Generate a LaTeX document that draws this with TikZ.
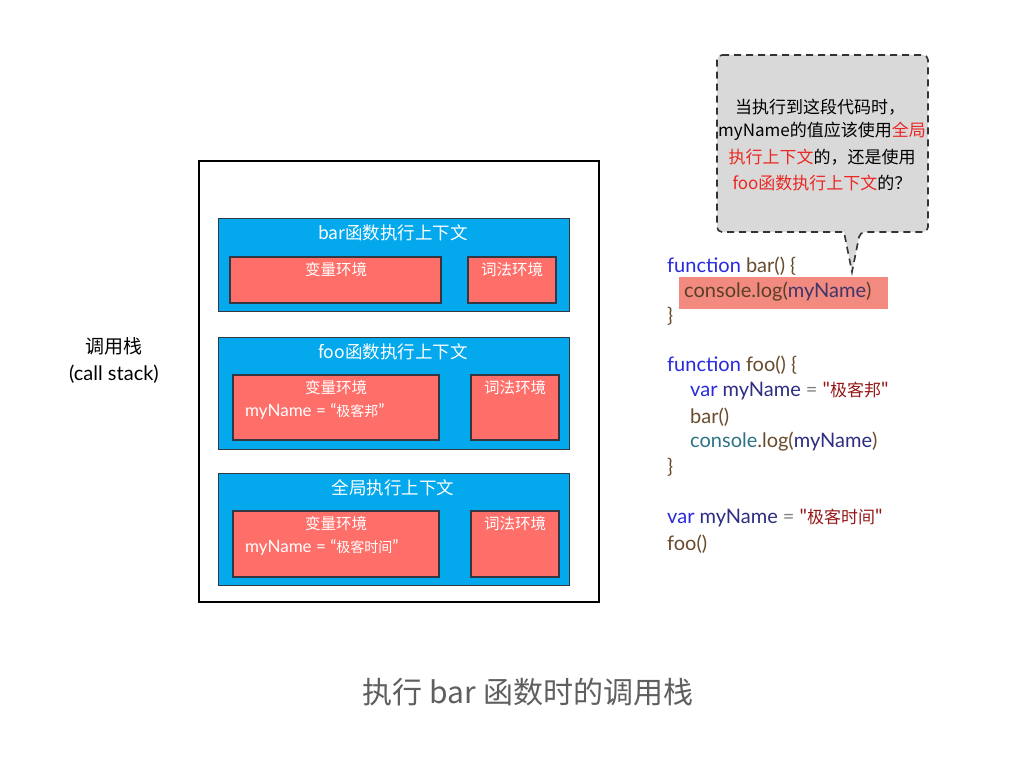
\documentclass[tikz,border=0pt]{standalone}
\usepackage{fontspec}
\setmainfont{Lato}[Ligatures=TeXOff]
\newfontfamily\cjk{Noto Sans CJK SC}
\definecolor{ctxblue}{RGB}{3,169,236}
\definecolor{envred}{RGB}{255,111,105}
\definecolor{boxedge}{RGB}{50,55,65}
\definecolor{bubble}{RGB}{217,217,217}
\definecolor{hlred}{RGB}{242,138,128}
\definecolor{kwblue}{RGB}{40,40,225}
\definecolor{fnbrown}{RGB}{105,75,45}
\definecolor{objteal}{RGB}{45,115,135}
\definecolor{varnavy}{RGB}{45,45,130}
\definecolor{strred}{RGB}{150,25,25}
\definecolor{capgray}{RGB}{95,95,95}
\definecolor{qred}{RGB}{235,40,35}
\newcommand{\cjks}[1]{{\cjk\fontsize{14}{16}\selectfont #1}}
\newcommand{\cjkc}[1]{{\cjk\fontsize{17}{19}\selectfont #1}}
\begin{document}
\begin{tikzpicture}[x=1pt,y=-1pt,
  ctx/.style={draw=boxedge,line width=1pt,fill=ctxblue},
  env/.style={draw=boxedge,line width=1.2pt,fill=envred},
  ttl/.style={text=white,font=\cjk\fontsize{17.5}{19}\selectfont,inner sep=0pt},
  lbl/.style={text=white,font=\cjk\fontsize{15.5}{17}\selectfont,inner sep=0pt},
  val/.style={text=white,font=\fontsize{17}{19}\selectfont,inner sep=0pt,anchor=west},
  code/.style={font=\fontsize{20}{22}\selectfont,inner sep=0pt,anchor=west},
  qtext/.style={font=\cjk\fontsize{17}{19}\selectfont,inner sep=0pt}
]
\useasboundingbox[fill=white] (0,0) rectangle (1012,764);

% call stack frame
\node[draw=black,line width=2pt,minimum width=400pt,minimum height=441pt,anchor=north west,inner sep=0pt] (stack) at (198,160) {};
\node[font=\cjk\fontsize{19}{21}\selectfont,inner sep=0pt] (stacklbl) at (114,346) {调用栈};
\node[font=\fontsize{20}{22}\selectfont,inner sep=0pt] (stacklbl2) at (114,374) {(call stack)};

% bar context
\draw[ctx] (218,218) rectangle (569,311);
\node[ttl] (bart) at (393,233) {bar函数执行上下文};
\draw[env] (230,257) rectangle (441,303);
\node[lbl] (barve) at (336,270) {变量环境};
\draw[env] (468,257) rectangle (556,303);
\node[lbl] (barle) at (512,270) {词法环境};

% foo context
\draw[ctx] (218,337) rectangle (569,449);
\node[ttl] (foot) at (393,352) {foo函数执行上下文};
\draw[env] (233,375) rectangle (439,440);
\node[lbl] (foove) at (336,388) {变量环境};
\node[val] (foov) at (245,411) {myName = “\cjks{极客邦}”};
\draw[env] (471,375) rectangle (559,440);
\node[lbl] (foole) at (515,388) {词法环境};

% global context
\draw[ctx] (218,473) rectangle (569,585);
\node[ttl] (globt) at (393,488) {全局执行上下文};
\draw[env] (233,511) rectangle (439,577);
\node[lbl] (globve) at (336,524) {变量环境};
\node[val] (globv) at (245,547) {myName = “\cjks{极客时间}”};
\draw[env] (471,511) rectangle (559,577);
\node[lbl] (globle) at (515,524) {词法环境};

% callout
\coordinate (tip) at (852,272);
\draw[fill=bubble,draw=black!80,line width=1.6pt,dash pattern=on 7pt off 5pt,rounded corners=5pt]
  (717,55) -- (928,55) -- (928,232) -- (860,232) [sharp corners] -- (tip) -- (844,232) [rounded corners=5pt] -- (717,232) -- cycle;
\node[qtext] (q1) at (820,107) {当执行到这段代码时，};
\node[qtext] (q2) at (822,131) {myName的值应该使用\textcolor{qred}{全局}};
\node[qtext] (q3) at (822,157) {\textcolor{qred}{执行上下文}的，还是使用};
\node[qtext] (q4) at (822,183) {\textcolor{qred}{foo函数执行上下文}的？};

% code
\fill[hlred] (679,277) rectangle (888,309);
\node[code] (c1) at (667,266) {\textcolor{kwblue}{function} \textcolor{fnbrown}{bar() \{}};
\node[code] (c2) at (684,292) {\textcolor{fnbrown!85!black}{console.log(}\textcolor{varnavy!70!fnbrown}{myName}\textcolor{fnbrown!85!black}{)}};
\node[code] (c3) at (667,316) {\textcolor{fnbrown}{\}}};
\node[code] (c4) at (667,365) {\textcolor{kwblue}{function} \textcolor{fnbrown}{foo() \{}};
\node[code] (c5) at (690,391) {\textcolor{kwblue}{var} \textcolor{varnavy}{myName} \textcolor{gray}{=} \textcolor{strred}{"\cjkc{极客邦}"}};
\node[code] (c6) at (690,417) {\textcolor{fnbrown}{bar()}};
\node[code] (c7) at (690,442) {\textcolor{objteal}{console}\textcolor{fnbrown}{.log(}\textcolor{varnavy}{myName}\textcolor{fnbrown}{)}};
\node[code] (c8) at (667,467) {\textcolor{fnbrown}{\}}};
\node[code] (c9) at (667,518) {\textcolor{kwblue}{var} \textcolor{varnavy}{myName} \textcolor{gray}{=} \textcolor{strred}{"\cjkc{极客时间}"}};
\node[code] (c10) at (667,544) {\textcolor{fnbrown}{foo()}};

% caption
\node[font=\cjk\fontsize{30}{33}\selectfont,text=capgray,inner sep=0pt] (cap) at (528,692) {执行 bar 函数时的调用栈};
\end{tikzpicture}
\end{document}
